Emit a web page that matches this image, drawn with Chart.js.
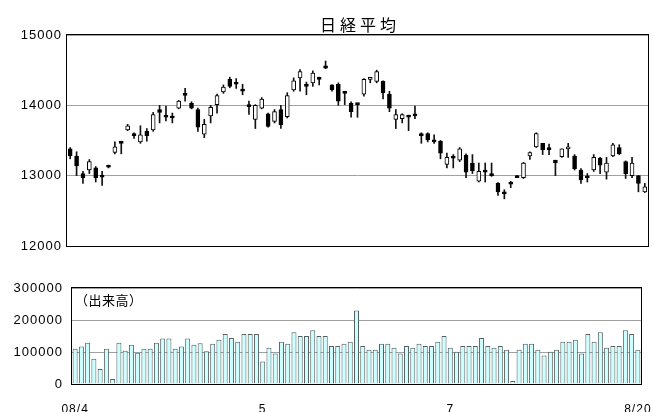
<!DOCTYPE html>
<html><head><meta charset="utf-8">
<script src="https://cdn.jsdelivr.net/npm/chart.js@4"></script>
<style>
html,body{margin:0;padding:0;background:#fff;overflow:hidden;width:653px;height:412px;}
#wrap{position:relative;width:653px;height:412px;overflow:hidden;}
canvas{position:absolute;left:0;}
#c1{top:0;}
#c2{top:270px;}
#title{position:absolute;left:208px;width:300px;top:14px;text-align:center;font:16px "Noto Sans CJK JP";letter-spacing:4px;padding-left:4px;box-sizing:border-box;line-height:20px;color:#000;}
#vlabel{position:absolute;left:75px;top:292px;font:13px "Noto Sans CJK JP";letter-spacing:0.5px;color:#000;line-height:16px;}
</style></head>
<body><div id="wrap">
<canvas id="c1" width="653" height="260"></canvas>
<canvas id="c2" width="700" height="142"></canvas>
<div id="title">日経平均</div>
<div id="vlabel">（出来高）</div>
</div>
<script>
const opens = [13380,13280,13030,13080,13110,12990,13140,13330,13480,13650,
13600,13480,13630,13650,13940,13850,13830,13960,14170,14030,
13940,13590,13850,14010,14190,14370,14310,14230,14010,13800,
13960,13880,13770,13940,13840,14220,14390,14300,14320,14400,
14560,14290,14300,14200,14030,14030,14160,14370,14340,14340,
14160,13800,13810,13860,13860,13600,13600,13510,13490,13160,
13280,13220,13290,13180,12920,13060,13020,12890,12750,12910,
13000,12970,13280,13410,13460,13400,13220,13270,13380,13280,
13080,12980,13080,13250,13050,13280,13400,13200,13000,13000,
12770];
const highs = [13400,13340,13060,13230,13130,13060,13150,13480,13490,13730,
13610,13710,13670,13900,14000,13990,13890,14070,14240,14050,
13960,13800,14000,14160,14290,14400,14380,14300,14060,14010,
14110,13890,13940,14000,14180,14390,14510,14330,14490,14400,
14630,14290,14320,14200,14050,14030,14380,14400,14500,14350,
14200,13940,13880,13860,13990,13610,13610,13580,13500,13320,
13300,13400,13310,13300,13180,13180,13180,12900,12800,12920,
13000,13190,13340,13610,13460,13450,13220,13380,13460,13300,
13100,13030,13300,13260,13260,13460,13440,13210,13260,13000,
12890];
const lows = [13240,13000,12890,13030,12910,12860,13110,13310,13310,13640,
13530,13460,13490,13630,13750,13780,13750,13950,14060,13950,
13630,13540,13750,13890,14170,14250,14240,14150,13870,13670,
13950,13690,13750,13670,13820,14200,14200,14150,14270,14290,
14520,14200,14000,14010,13830,13830,14130,14320,14320,14090,
13910,13670,13750,13640,13810,13460,13480,13460,13240,13110,
13110,13200,12970,13030,12910,12910,12990,12720,12670,12830,
12970,12960,13230,13400,13300,13300,13000,13260,13260,13080,
12890,12910,13060,13030,12950,13270,13300,12960,12970,12770,
12760];
const closes = [13280,13140,12970,13200,12970,12980,13120,13410,13460,13710,
13570,13580,13570,13870,13900,13830,13820,14060,14140,13960,
13690,13730,13970,14140,14260,14270,14300,14200,13980,14000,
14090,13700,13910,13720,14140,14350,14480,14270,14460,14370,
14530,14220,14060,14170,13910,14010,14370,14380,14480,14180,
13960,13870,13870,13830,13850,13570,13510,13480,13320,13260,
13250,13380,13050,13070,13060,13050,13000,12770,12740,12880,
12970,13180,13330,13600,13370,13370,13180,13380,13390,13100,
12940,12970,13260,13150,13180,13440,13310,13030,13180,12890,
12840];
const volumes = [110000,117000,129000,79000,47000,110000,16000,129000,104000,123000,
98000,110000,110000,129000,142000,142000,110000,117000,142000,123000,
127000,102000,126000,138000,156000,144000,132000,156000,156000,156000,
70000,113000,95000,132000,126000,162000,150000,150000,168000,150000,
150000,119000,119000,126000,132000,230000,119000,107000,107000,126000,
126000,113000,95000,119000,113000,126000,119000,119000,132000,150000,
113000,101000,119000,119000,119000,144000,119000,113000,119000,107000,
9000,107000,126000,126000,107000,89000,101000,107000,132000,132000,
138000,95000,156000,132000,162000,113000,119000,119000,168000,156000,
107000];
const tickLabels = ['08/4','5','7','8/20'];
const tickIndex = [0,30,60,90];
const priceRange = [12000,15000,1000];
const volumeRange = [0,300000,100000];

const categories = opens.map((_, i) => {
  const k = tickIndex.indexOf(i);
  return k >= 0 ? tickLabels[k] : '';
});

const TICK_FONT = {family:'"Liberation Sans", Arial, sans-serif', size:13};

const frame = {
  id:'frame',
  afterDraw(chart){
    const {ctx, chartArea:a} = chart;
    ctx.save();
    ctx.strokeStyle = '#000';
    ctx.lineWidth = 1;
    ctx.strokeRect(Math.round(a.left)-0.5, Math.round(a.top)-0.5, Math.round(a.right-a.left)+1, Math.round(a.bottom-a.top)+1);
    ctx.restore();
  }
};
const spacing = {id:'spacing', beforeDraw(chart){ chart.ctx.letterSpacing = '1px'; }};

const bodies = opens.map((o,i)=>[o, closes[i]]);
const wicks = lows.map((l,i)=>[l, highs[i]]);

new Chart(document.getElementById('c1'), {
  type:'bar',
  data:{
    labels: categories,
    datasets:[
      {data: bodies, grouped:false, barThickness:4, minBarLength:2,
       backgroundColor: opens.map((o,i)=> closes[i] >= o ? '#ffffff' : '#000000'),
       borderColor:'#000', borderWidth:1, borderSkipped:false},
      {data: wicks, grouped:false, barThickness:1, backgroundColor:'#111', borderWidth:0}
    ]
  },
  options:{
    responsive:false, animation:false,
    layout:{padding:{left:0,right:5,top:35,bottom:14}},
    plugins:{legend:{display:false}, tooltip:{enabled:false}, title:{display:false}},
    scales:{
      x:{display:false, offset:true},
      y:{min:priceRange[0], max:priceRange[1],
        ticks:{stepSize:priceRange[2], color:'#000', font:TICK_FONT, padding:5, callback:v=>String(v)},
        grid:{color:'#a0a0a0', drawTicks:false, lineWidth:1},
        border:{display:false},
        afterFit(s){ s.width = 67; }
      }
    }
  },
  plugins:[spacing, frame]
});

new Chart(document.getElementById('c2'), {
  type:'bar',
  data:{
    labels: categories,
    datasets:[
      {data: volumes, backgroundColor:'#ccffff', borderColor:'#555f5f', borderWidth:1,
       barPercentage:0.8, categoryPercentage:1}
    ]
  },
  options:{
    responsive:false, animation:false,
    layout:{padding:{left:0,right:59,top:18,bottom:0}},
    plugins:{legend:{display:false}, tooltip:{enabled:false}},
    scales:{
      x:{offset:true,
        ticks:{autoSkip:false, maxRotation:0, minRotation:0, color:'#000', font:{family:'"Liberation Sans", Arial, sans-serif', size:12}, padding:18,
          callback:function(v,i){ return categories[i]; }},
        grid:{display:false, drawTicks:false},
        border:{display:false},
        afterFit(s){ s.height = 28; }
      },
      y:{min:volumeRange[0], max:volumeRange[1],
        ticks:{stepSize:volumeRange[2], color:'#000', font:TICK_FONT, padding:9, callback:v=>String(v)},
        grid:{color:'#a0a0a0', drawTicks:false},
        border:{display:false},
        afterFit(s){ s.width = 72; }
      }
    }
  },
  plugins:[spacing, frame]
});
</script>
</body></html>
